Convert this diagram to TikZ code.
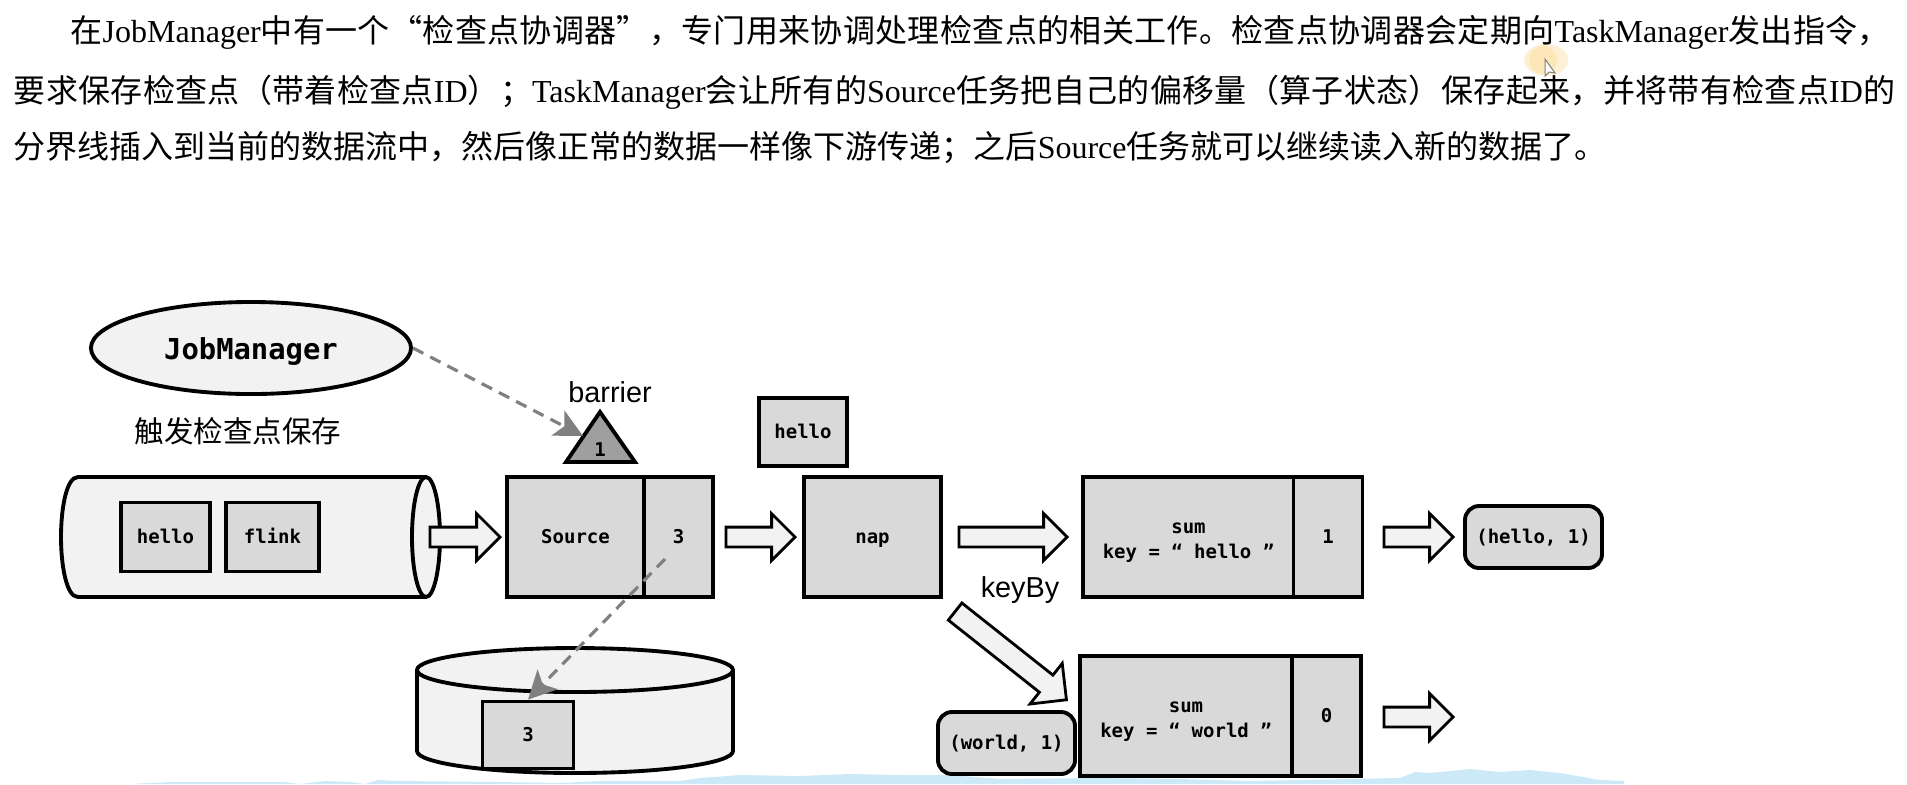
\documentclass[tikz,border=0pt]{standalone}
\usepackage{fontspec}
\setmainfont{Liberation Serif}
\setsansfont{Liberation Sans}
\setmonofont{DejaVu Sans Mono}
\newfontfamily\cjk{Noto Sans CJK SC}
\newfontfamily\cjkwide[LetterSpace=1.1]{Noto Sans CJK SC}
\usetikzlibrary{arrows.meta,shapes.arrows,shapes.geometric}

\definecolor{boxgray}{HTML}{D9D9D9}
\definecolor{palegray}{HTML}{F2F2F2}
\definecolor{dashgray}{HTML}{808080}
\definecolor{wavecolor}{HTML}{CBE9F6}
\definecolor{glowcolor}{HTML}{FDE6B8}

\newcommand{\zh}[1]{{\cjk #1}}
\newcommand{\zj}[1]{{\cjkwide #1}}

\tikzset{
  bodytext/.style={anchor=base west,inner sep=0pt,font=\fontsize{9.1pt}{11pt}\selectfont},
  monotext/.style={font=\ttfamily\bfseries\fontsize{5.4pt}{7.1pt}\selectfont,align=center},
  sumbox/.style={draw,line width=1.1pt,fill=boxgray,inner sep=0pt,monotext},
  opbox/.style={sumbox,text height=4.9pt,text depth=1.2pt},
  recbox/.style={opbox,rounded corners=4pt},
  fatarrow/.style={draw,line width=0.8pt,fill=palegray,single arrow,inner xsep=0pt,inner ysep=8.5*0.2845pt,
    single arrow head extend=13.5*0.2845pt,single arrow tip angle=90,anchor=tip},
  dashline/.style={draw=dashgray,line width=0.9pt,dash pattern=on 3.3pt off 2.2pt,
    -{Stealth[length=8pt,width=8pt,inset=2pt]}},
  shell/.style={draw,line width=1.1pt,fill=palegray},
  sanslabel/.style={font=\sffamily\fontsize{8.2pt}{10pt}\selectfont,inner sep=0pt}
}

\begin{document}
\begin{tikzpicture}[x=0.01cm,y=-0.01cm]
  \useasboundingbox (0,0) rectangle (1907,784);
  % cursor glow and bottom edge
  \fill[glowcolor,opacity=0.6] (1546,60) ellipse (22 and 16);
  \fill[glowcolor] (1543,60) ellipse (14 and 14);
  \fill[wavecolor] (130,784) -- (171,782) -- (284,782) -- (300,784) -- (325,781) -- (350,782) -- (365,784)
    -- (378,780) -- (400,781) -- (500,782) -- (560,783) -- (600,781) -- (680,781) -- (700,778) -- (740,775)
    -- (800,776) -- (850,774) -- (900,775) -- (950,775) -- (1000,779) -- (1100,778) -- (1180,779) -- (1250,781)
    -- (1300,780) -- (1400,778) -- (1415,772) -- (1430,773) -- (1470,769) -- (1500,772) -- (1530,770)
    -- (1560,773) -- (1600,780) -- (1624,781) -- (1624,784) -- cycle;
  % paragraph
  \node[bodytext] (lineone) at (70,42) {\zj{在}JobManager\zj{中有一个“检查点协调器”，专门用来协调处理检查点的相关工作。检查点协调器会定期向}TaskManager\zj{发出指令，}};
  \node[bodytext] (linetwo) at (13,102) {\zj{要求保存检查点（带着检查点}ID\zj{）；}TaskManager\zj{会让所有的}Source\zj{任务把自己的偏移量（算子状态）保存起来，并将带有检查点}ID\zj{的}};
  \node[bodytext] (linethree) at (13,158) {\zh{分界线插入到当前的数据流中，然后像正常的数据一样像下游传递；之后}Source\zh{任务就可以继续读入新的数据了。}};
  \draw[gray,fill=white,line width=0.3pt] (1545,59) -- (1545,76) -- (1549,72) -- (1555,73) -- cycle;
  % job manager
  \node[draw,ellipse,line width=1.1pt,fill=palegray,minimum width=320*0.2845pt,minimum height=92*0.2845pt,inner sep=0pt,
    font=\ttfamily\bfseries\fontsize{8.2pt}{10pt}\selectfont] (job) at (251,348) {\rule{0pt}{8pt}JobManager};
  \node[font=\cjk\fontsize{8.4pt}{10pt}\selectfont,inner sep=0pt] (trigger) at (238,431) {触发检查点保存};
  % barrier
  \node[sanslabel] (barrierlabel) at (610,392) {barrier};
  \draw[line width=1.1pt,fill=gray!75] (600,412) -- (635,462) -- (566,462) -- cycle;
  \node[monotext] (barrier) at (600,450) {1};
  \coordinate (barrierin) at (583,436);
  % log
  \draw[shell] (426,477) -- (78,477) .. controls (66,477) and (61,510) .. (61,537)
    .. controls (61,564) and (66,597) .. (78,597) -- (426,597);
  \draw[shell] (426,537) ellipse (14 and 60);
  \node[opbox,minimum width=89*0.2845pt,minimum height=69*0.2845pt] (hellolog) at (165.5,537) {hello};
  \node[opbox,minimum width=93*0.2845pt,minimum height=69*0.2845pt] (flinklog) at (272.5,537) {flink};
  % source and map
  \node[opbox,minimum width=137*0.2845pt,minimum height=120*0.2845pt] (source) at (575.5,537) {Source};
  \node[opbox,minimum width=69*0.2845pt,minimum height=120*0.2845pt] (sourcestate) at (678.5,537) {3};
  \node[opbox,minimum width=88*0.2845pt,minimum height=68*0.2845pt] (hellobox) at (803,432) {hello};
  \node[opbox,minimum width=137*0.2845pt,minimum height=120*0.2845pt] (nap) at (872.5,537) {nap};
  % sum tasks
  \node[sumbox,minimum width=211*0.2845pt,minimum height=120*0.2845pt] (sumhello) at (1188.5,537) {\rule{0pt}{6pt}sum\\key = “ hello ”};
  \node[opbox,minimum width=69*0.2845pt,minimum height=120*0.2845pt] (sumhellostate) at (1328,537) {1};
  \node[recbox,minimum width=137*0.2845pt,minimum height=62*0.2845pt] (helloout) at (1533.5,537) {(hello, 1)};
  \node[sumbox,minimum width=212*0.2845pt,minimum height=120*0.2845pt] (sumworld) at (1186,716) {\rule{0pt}{6pt}sum\\key = “ world ”};
  \node[opbox,minimum width=69*0.2845pt,minimum height=120*0.2845pt] (sumworldstate) at (1326.5,716) {0};
  \node[recbox,minimum width=137*0.2845pt,minimum height=62*0.2845pt] (worldout) at (1006.5,743) {(world, 1)};
  % big arrows
  \node[fatarrow,minimum height=70*0.2845pt] (logarrow) at (502,537) {};
  \node[fatarrow,minimum height=69*0.2845pt] (sourcearrow) at (797,537) {};
  \node[fatarrow,minimum height=108*0.2845pt] (naparrow) at (1069,537) {};
  \node[fatarrow,minimum height=69*0.2845pt] (sumarrow) at (1455,537) {};
  \node[fatarrow,minimum height=69*0.2845pt] (worldarrow) at (1455,717) {};
  \node[fatarrow,minimum height=142*0.2845pt,inner ysep=9.5*0.2845pt,single arrow head extend=15*0.2845pt,rotate=-38.4] (keyarrow) at (1068,701) {};
  \node[sanslabel] (keyby) at (1020,590) {keyBy};
  % state store
  \draw[shell] (417,670) -- (417,751) arc[start angle=180,end angle=360,x radius=158,y radius=-22] -- (733,670);
  \draw[shell] (575,670) ellipse (158 and 22);
  \node[opbox,minimum width=91*0.2845pt,minimum height=67*0.2845pt] (store) at (528,735) {3};
  % dashed
  \coordinate (stateout) at (665,559);
  \draw[dashline] (job.east) -- (barrierin);
  \draw[dashline] (stateout) -- (store.north);
\end{tikzpicture}
\end{document}
